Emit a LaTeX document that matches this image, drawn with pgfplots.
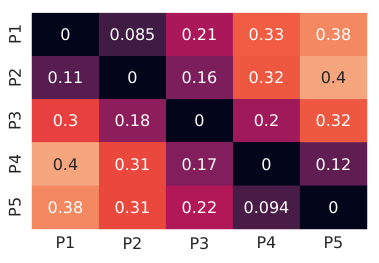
\documentclass[border=0pt]{standalone}
\usepackage{pgfplots}
\pgfplotsset{compat=1.18}
\usepackage{fontspec}
\setmainfont{DejaVu Sans}
\definecolor{tickgray}{HTML}{262626}
\begin{document}
\begin{tikzpicture}
\path (-32pt,-33pt) rectangle (347pt,229pt);
\begin{axis}[
  at={(0,0)}, anchor=south west,
  scale only axis, width=335pt, height=216pt,
  xmin=-0.5, xmax=4.5, ymin=-0.5, ymax=4.5,
  y dir=reverse,
  axis line style={draw=none},
  major tick length=0pt,
  xtick={0,1,2,3,4}, ytick={0,1,2,3,4},
  xticklabels={P1,P2,P3,P4,P5},
  yticklabels={P1,P2,P3,P4,P5},
  tick label style={font=\fontsize{16}{19}\selectfont, text=tickgray},
  xticklabel style={anchor=north, inner sep=0pt},
  xticklabel shift=8pt,
  yticklabel style={rotate=90, anchor=south, inner sep=0pt},
  yticklabel shift=11pt,
  colormap={rocketish}{
    rgb255(0cm)=(3,5,26);
    rgb255(85cm)=(64,27,67);
    rgb255(110cm)=(88,29,80);
    rgb255(160cm)=(124,30,91);
    rgb255(170cm)=(130,30,91);
    rgb255(180cm)=(142,30,91);
    rgb255(200cm)=(160,26,91);
    rgb255(210cm)=(171,24,89);
    rgb255(220cm)=(178,23,88);
    rgb255(300cm)=(232,64,62);
    rgb255(310cm)=(234,72,61);
    rgb255(320cm)=(238,87,64);
    rgb255(330cm)=(240,93,66);
    rgb255(380cm)=(243,136,97);
    rgb255(400cm)=(245,166,126)
  },
  point meta min=0, point meta max=0.4,
  clip=false,
]
\addplot[matrix plot*, mesh/cols=5, point meta=explicit, draw=none] table[meta=c] {
x y c
0 0 0
1 0 0.085
2 0 0.21
3 0 0.33
4 0 0.38
0 1 0.11
1 1 0
2 1 0.16
3 1 0.32
4 1 0.4
0 2 0.3
1 2 0.18
2 2 0
3 2 0.2
4 2 0.32
0 3 0.4
1 3 0.31
2 3 0.17
3 3 0
4 3 0.12
0 4 0.38
1 4 0.31
2 4 0.22
3 4 0.094
4 4 0
};
\addplot[only marks, mark=none, point meta=explicit symbolic,
  nodes near coords, nodes near coords align=center,
  every node near coord/.style={font=\fontsize{16}{19}\selectfont, text=white, anchor=center}]
  table[meta=t] {
x y t
0 0 0
1 0 0.085
2 0 0.21
3 0 0.33
4 0 0.38
0 1 0.11
1 1 0
2 1 0.16
3 1 0.32
0 2 0.3
1 2 0.18
2 2 0
3 2 0.2
4 2 0.32
1 3 0.31
2 3 0.17
3 3 0
4 3 0.12
0 4 0.38
1 4 0.31
2 4 0.22
3 4 0.094
4 4 0
};
\addplot[only marks, mark=none, point meta=explicit symbolic,
  nodes near coords, nodes near coords align=center,
  every node near coord/.style={font=\fontsize{16}{19}\selectfont, text=tickgray, anchor=center}]
  table[meta=t] {
x y t
4 1 0.4
0 3 0.4
};
\end{axis}
\end{tikzpicture}
\end{document}
